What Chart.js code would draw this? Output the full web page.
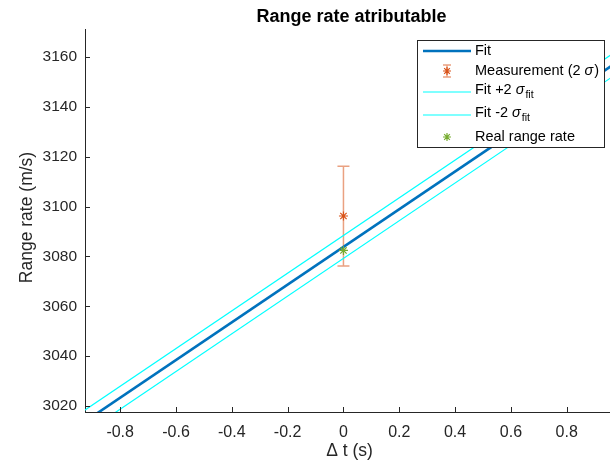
<!DOCTYPE html>
<html><head><meta charset="utf-8">
<script src="https://cdn.jsdelivr.net/npm/chart.js@4"></script>
<style>html,body{margin:0;padding:0;background:#fff}#wrap{width:610px;height:463px}</style>
</head><body><div id="wrap"><canvas id="c" width="610" height="463"></canvas></div>
<script>
// ---- data ----
const fitT = [-1, 1];
const fitV = [3008.2, 3159.4];
const upperV = [3012.8, 3164.0];
const lowerV = [3003.6, 3154.8];
const measT = [0];
const measV = [3096.2];
const measErr = [20];
const realT = [0];
const realV = [3082.4];
const xTicks = [-0.8, -0.6, -0.4, -0.2, 0, 0.2, 0.4, 0.6, 0.8];
const xTickLabels = ['-0.8', '-0.6', '-0.4', '-0.2', '0', '0.2', '0.4', '0.6', '0.8'];
const yTicks = [3020, 3040, 3060, 3080, 3100, 3120, 3140, 3160];
const yTickLabels = ['3020', '3040', '3060', '3080', '3100', '3120', '3140', '3160'];
const xRange = [-0.926, 0.955];
const yRange = [3017.6, 3171.2];

const FONT = '"Liberation Sans", Arial, sans-serif';
const AX = '#262626';
const C_FIT = '#0072BD', C_MEAS = '#D95319', C_CYAN = '#00FFFF', C_REAL = '#77AC30';

const pts = (xs, ys) => xs.map((x, i) => ({x, y: ys[i]}));

const deco = {
  id: 'deco',
  beforeDatasetsDraw(chart) {
    const {ctx, scales: {x, y}} = chart;
    ctx.save();
    ctx.strokeStyle = 'rgba(217,83,25,0.55)';
    ctx.lineWidth = 1.5;
    measT.forEach((t, i) => {
      const px = x.getPixelForValue(t);
      const top = y.getPixelForValue(measV[i] + measErr[i]);
      const bot = y.getPixelForValue(measV[i] - measErr[i]);
      ctx.beginPath();
      ctx.moveTo(px, top); ctx.lineTo(px, bot);
      ctx.moveTo(px - 6, top); ctx.lineTo(px + 6, top);
      ctx.moveTo(px - 6, bot); ctx.lineTo(px + 6, bot);
      ctx.stroke();
    });
    ctx.restore();
  },
  afterDraw(chart) {
    const {ctx, chartArea: a, scales: {x, y}} = chart;
    ctx.save();
    // inward tick marks
    ctx.strokeStyle = AX; ctx.lineWidth = 1;
    ctx.beginPath();
    xTicks.forEach(v => { const p = Math.round(x.getPixelForValue(v)) + 0.5; ctx.moveTo(p, a.bottom); ctx.lineTo(p, a.bottom - 5); });
    yTicks.forEach(v => { const p = Math.round(y.getPixelForValue(v)) + 0.5; ctx.moveTo(a.left, p); ctx.lineTo(a.left + 5, p); });
    ctx.stroke();
    // title
    ctx.fillStyle = '#000';
    ctx.textAlign = 'center'; ctx.textBaseline = 'middle';
    ctx.font = 'bold 18px ' + FONT;
    ctx.fillText('Range rate atributable', (a.left + a.right) / 2 + 4, 17);
    // axis titles
    ctx.fillStyle = AX;
    ctx.font = '17.5px ' + FONT;
    ctx.fillText('\u0394 t (s)', (a.left + a.right) / 2 + 2, 451);
    ctx.save();
    ctx.translate(27, (a.top + a.bottom) / 2 - 3);
    ctx.rotate(-Math.PI / 2);
    ctx.fillText('Range rate (m/s)', 0, 0);
    ctx.restore();
    // legend
    const L = 417.5, T = 40.5, W = 187, H = 107;
    ctx.fillStyle = '#fff'; ctx.fillRect(L, T, W, H);
    ctx.strokeStyle = AX; ctx.lineWidth = 1; ctx.strokeRect(L, T, W, H);
    const x0 = 423, x1 = 471, tx = 475;
    const star = (cx, cy, col, r) => {
      ctx.strokeStyle = col; ctx.lineWidth = 1.2; ctx.beginPath();
      for (let k = 0; k < 4; k++) { const ang = k * Math.PI / 4; ctx.moveTo(cx - r * Math.cos(ang), cy - r * Math.sin(ang)); ctx.lineTo(cx + r * Math.cos(ang), cy + r * Math.sin(ang)); }
      ctx.stroke();
    };
    const line = (yy, col, w) => { ctx.strokeStyle = col; ctx.lineWidth = w; ctx.beginPath(); ctx.moveTo(x0, yy); ctx.lineTo(x1, yy); ctx.stroke(); };
    ctx.textAlign = 'left'; ctx.textBaseline = 'middle'; ctx.fillStyle = '#000';
    const txt = (s, xx, yy, f) => { ctx.font = f; ctx.fillText(s, xx, yy); return ctx.measureText(s).width; };
    const F = '14.5px ' + FONT, FI = 'italic 14.5px ' + FONT, FS = '10.5px ' + FONT;
    line(51, C_FIT, 2.5);
    txt('Fit', tx, 51, F);
    const mx = (x0 + x1) / 2, my = 71;
    ctx.strokeStyle = 'rgba(217,83,25,0.55)'; ctx.lineWidth = 1.5; ctx.beginPath();
    ctx.moveTo(mx, my - 6); ctx.lineTo(mx, my + 6); ctx.moveTo(mx - 4, my - 6); ctx.lineTo(mx + 4, my - 6); ctx.moveTo(mx - 4, my + 6); ctx.lineTo(mx + 4, my + 6); ctx.stroke();
    star(mx, my, C_MEAS, 4);
    ctx.fillStyle = '#000';
    let w = txt('Measurement (2 ', tx, 71, F);
    let w2 = txt('\u03C3', tx + w, 71, FI);
    txt(')', tx + w + w2 + 1, 71, F);
    line(92, C_CYAN, 1.2);
    w = txt('Fit +2 ', tx, 90, F);
    w2 = txt('\u03C3', tx + w, 90, FI);
    txt('fit', tx + w + w2 + 1, 95, FS);
    line(115, C_CYAN, 1.2);
    w = txt('Fit -2 ', tx, 113, F);
    w2 = txt('\u03C3', tx + w, 113, FI);
    txt('fit', tx + w + w2 + 1, 118, FS);
    star(mx, 137, C_REAL, 4);
    ctx.fillStyle = '#000';
    txt('Real range rate', tx, 137, F);
    ctx.restore();
  }
};

new Chart(document.getElementById('c'), {
  type: 'scatter',
  data: {
    datasets: [
      {label: 'Fit +2', data: pts(fitT, upperV), showLine: true, borderColor: C_CYAN, borderWidth: 1.2, pointRadius: 0, clip: 0, order: 3},
      {label: 'Fit -2', data: pts(fitT, lowerV), showLine: true, borderColor: C_CYAN, borderWidth: 1.2, pointRadius: 0, clip: 0, order: 3},
      {label: 'Fit', data: pts(fitT, fitV), showLine: true, borderColor: C_FIT, borderWidth: 2.6, pointRadius: 0, clip: 0, order: 2},
      {label: 'Measurement', data: pts(measT, measV), pointStyle: 'star', pointRadius: 4.5, borderColor: C_MEAS, backgroundColor: C_MEAS, pointBorderWidth: 1.2, order: 1},
      {label: 'Real range rate', data: pts(realT, realV), pointStyle: 'star', pointRadius: 4.5, borderColor: C_REAL, backgroundColor: C_REAL, pointBorderWidth: 1.2, order: 0}
    ]
  },
  options: {
    responsive: false, animation: false, events: [],
    layout: {autoPadding: false, padding: {top: 29, left: 0, right: 0, bottom: 0}},
    plugins: {legend: {display: false}, title: {display: false}, tooltip: {enabled: false}},
    scales: {
      x: {
        type: 'linear', min: xRange[0], max: xRange[1],
        grid: {display: true, drawOnChartArea: false, drawTicks: false},
        border: {display: true, color: AX, width: 1},
        afterBuildTicks: s => { s.ticks = xTicks.map(v => ({value: v})); },
        afterFit: s => { s.height = 51; s.paddingRight = 0; s.paddingLeft = 0; },
        ticks: {padding: 10.5, color: AX, font: {family: FONT, size: 16}, maxRotation: 0, autoSkip: false,
          callback: (v) => { const i = xTicks.findIndex(t => Math.abs(t - v) < 1e-9); return i >= 0 ? xTickLabels[i] : ''; }}
      },
      y: {
        type: 'linear', min: yRange[0], max: yRange[1],
        grid: {display: true, drawOnChartArea: false, drawTicks: false},
        border: {display: true, color: AX, width: 1},
        afterBuildTicks: s => { s.ticks = yTicks.map(v => ({value: v})); },
        afterFit: s => { s.width = 85; s.paddingTop = 0; s.paddingBottom = 0; },
        ticks: {padding: 8, color: AX, font: {family: FONT, size: 15.5}, autoSkip: false,
          callback: (v) => { const i = yTicks.findIndex(t => Math.abs(t - v) < 1e-9); return i >= 0 ? yTickLabels[i] : ''; }}
      }
    }
  },
  plugins: [deco]
});
</script></body></html>
